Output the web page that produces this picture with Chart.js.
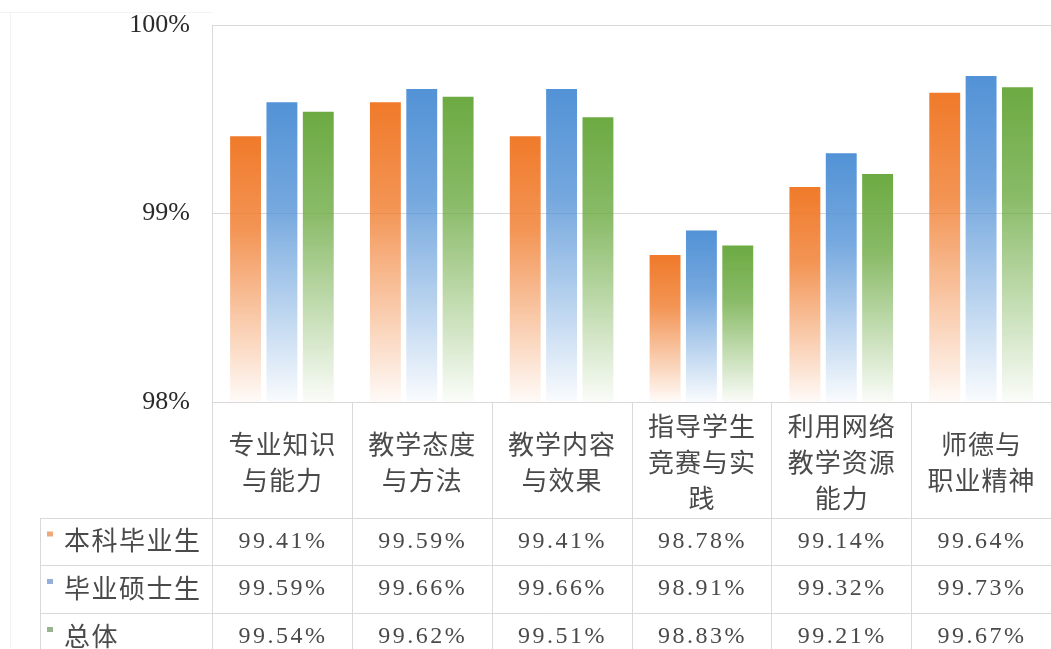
<!DOCTYPE html>
<html>
<head>
<meta charset="utf-8">
<script src="https://cdn.jsdelivr.net/npm/chart.js@4/dist/chart.umd.min.js"></script>
<style>
  html, body { margin: 0; padding: 0; background: #ffffff; }
  #wrap { width: 1051px; height: 649px; position: relative; }
</style>
</head>
<body>
<div id="wrap"><canvas id="c"></canvas></div>
<script>
// ---- data ----
const categories = [
  ["专业知识", "与能力"],
  ["教学态度", "与方法"],
  ["教学内容", "与效果"],
  ["指导学生", "竞赛与实", "践"],
  ["利用网络", "教学资源", "能力"],
  ["师德与", "职业精神"]
];
const seriesNames = ["本科毕业生", "毕业硕士生", "总体"];
const undergrad = [99.41, 99.59, 99.41, 98.78, 99.14, 99.64];
const master    = [99.59, 99.66, 99.66, 98.91, 99.32, 99.73];
const overall   = [99.54, 99.62, 99.51, 98.83, 99.21, 99.67];
const yMin = 98, yMax = 100, yStep = 1;

// ---- styles ----
const seriesRGB = ["240,122,42", "82,146,214", "108,170,66"];
const keyColors = ["#EDA97C", "#96AEDC", "#98B48E"];
const lineColor = "#d9d9d9";
const textColor = "#4a4a4a";
const cjkFont = '"Noto Sans CJK SC", "Noto Sans", sans-serif';
const numFont = '"Liberation Serif", "DejaVu Serif", serif';

function gradFill(rgb) {
  return function (ctx) {
    const chart = ctx.chart;
    if (!chart.chartArea || ctx.type !== 'data') return 'rgb(' + rgb + ')';
    const ys = chart.scales.y;
    const top = ys.getPixelForValue(ctx.raw);
    const bottom = ys.getPixelForValue(ys.min);
    if (!isFinite(top) || !isFinite(bottom) || bottom - top < 1) return 'rgb(' + rgb + ')';
    const g = chart.ctx.createLinearGradient(0, top, 0, bottom);
    g.addColorStop(0, 'rgba(' + rgb + ',1)');
    g.addColorStop(0.35, 'rgba(' + rgb + ',0.8)');
    g.addColorStop(1, 'rgba(' + rgb + ',0.03)');
    return g;
  };
}

const seriesData = [undergrad, master, overall];

const tablePlugin = {
  id: 'dataTable',
  afterDraw(chart) {
    const ctx = chart.ctx;
    const ca = chart.chartArea;
    const xs = chart.scales.x;
    const n = categories.length;
    const colW = (ca.right - ca.left) / n;
    const headerBottom = 518;
    const rowH = [47, 48, 48];
    const rowTops = [headerBottom, headerBottom + rowH[0], headerBottom + rowH[0] + rowH[1]];
    const rowHeadLeft = 40;
    const H = chart.height;

    ctx.save();
    ctx.strokeStyle = lineColor;
    ctx.lineWidth = 1;
    ctx.beginPath();
    ctx.moveTo(ca.left + 0.5, ca.top); ctx.lineTo(ca.left + 0.5, H);
    for (let i = 1; i <= n; i++) {
      const x = Math.round(ca.left + i * colW) + 0.5;
      ctx.moveTo(x, ca.bottom); ctx.lineTo(x, H);
    }
    ctx.moveTo(rowHeadLeft + 0.5, headerBottom); ctx.lineTo(rowHeadLeft + 0.5, H);
    ctx.moveTo(ca.left, ca.bottom + 0.5); ctx.lineTo(ca.right, ca.bottom + 0.5);
    rowTops.forEach(y => { ctx.moveTo(rowHeadLeft, y + 0.5); ctx.lineTo(ca.right, y + 0.5); });
    ctx.stroke();

    // faint outer chart frame at the top-left
    ctx.strokeStyle = '#f3f3f3';
    ctx.beginPath();
    ctx.moveTo(0, 12.5); ctx.lineTo(ca.left, 12.5);
    ctx.moveTo(10.5, 12); ctx.lineTo(10.5, H);
    ctx.stroke();

    ctx.fillStyle = textColor;
    ctx.textAlign = 'center';
    ctx.textBaseline = 'middle';
    ctx.font = '26px ' + cjkFont;
    ctx.letterSpacing = '1px';
    const headMid = 462, lh = 36;
    categories.forEach((lines, i) => {
      const cx = xs.getPixelForValue(i);
      const y0 = headMid - (lines.length - 1) * lh / 2;
      lines.forEach((t, k) => ctx.fillText(t, cx + 0.5, y0 + k * lh));
    });

    ctx.textAlign = 'left';
    ctx.font = '26px ' + cjkFont;
    ctx.letterSpacing = '1.5px';
    seriesNames.forEach((name, r) => {
      const mid = rowTops[r] + rowH[r] / 2 - 1;
      ctx.fillStyle = keyColors[r];
      ctx.fillRect(47, mid - 9, 6, 5);
      ctx.fillStyle = textColor;
      ctx.fillText(name, 64, mid);
    });

    ctx.textAlign = 'center';
    ctx.font = '24px ' + numFont;
    ctx.letterSpacing = '2.5px';
    seriesData.forEach((arr, r) => {
      const mid = rowTops[r] + rowH[r] / 2 - 1;
      arr.forEach((v, i) => {
        const cx = xs.getPixelForValue(i);
        ctx.fillText(v.toFixed(2) + '%', cx + 1, mid + 1);
      });
    });
    ctx.restore();
  }
};

new Chart(document.getElementById('c'), {
  type: 'bar',
  data: {
    labels: categories,
    datasets: seriesNames.map((name, i) => ({
      label: name,
      data: seriesData[i],
      backgroundColor: gradFill(seriesRGB[i]),
      borderWidth: 0,
      categoryPercentage: 0.78,
      barPercentage: 0.85
    }))
  },
  options: {
    responsive: true,
    maintainAspectRatio: false,
    devicePixelRatio: 1,
    animation: false,
    layout: { padding: { left: 0, right: 0, top: 25, bottom: 247 } },
    plugins: {
      legend: { display: false },
      tooltip: { enabled: false }
    },
    scales: {
      x: {
        display: false,
        grid: { display: false }
      },
      y: {
        min: yMin,
        max: yMax,
        afterFit(scale) {
          scale.width = 212;
          scale.paddingTop = 0;
          scale.paddingBottom = 0;
        },
        border: { display: false },
        grid: { color: lineColor, drawTicks: false, lineWidth: 1 },
        ticks: {
          stepSize: yStep,
          padding: 22,
          color: '#2a2a2a',
          font: { family: numFont, size: 26 },
          callback: v => v + '%'
        }
      }
    }
  },
  plugins: [tablePlugin]
});
</script>
</body>
</html>
